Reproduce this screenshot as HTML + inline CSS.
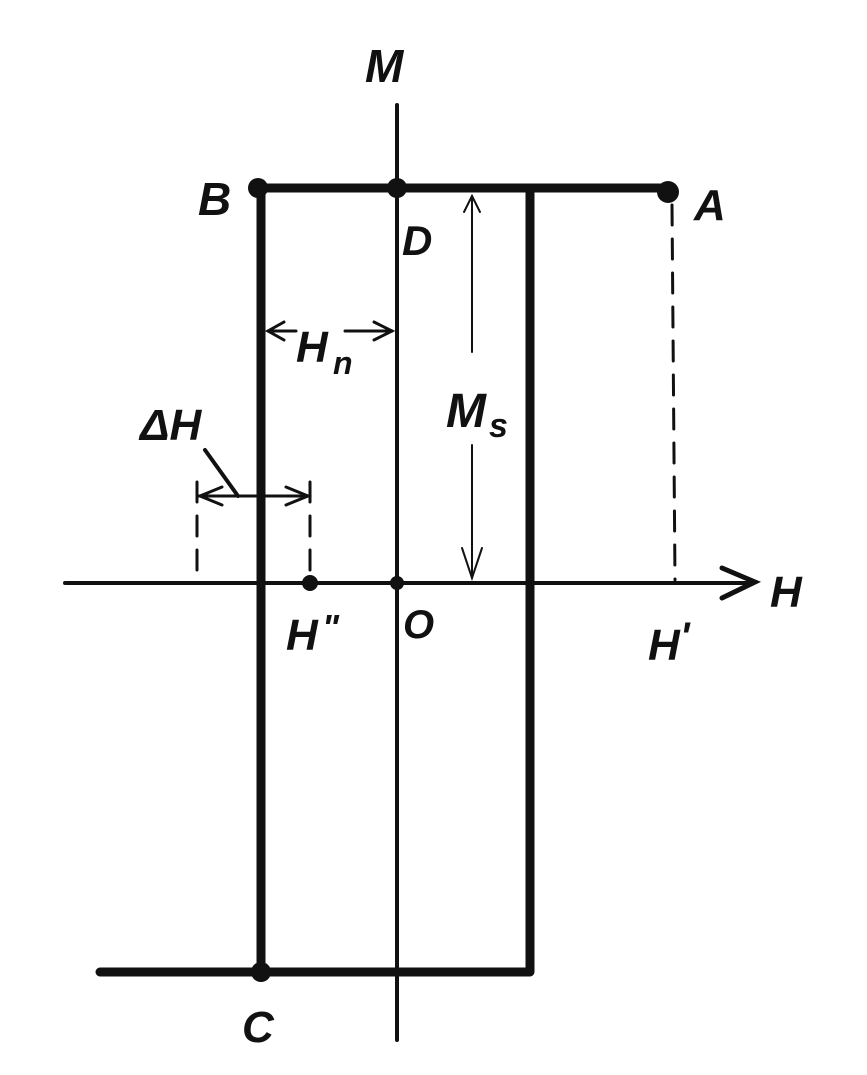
<!DOCTYPE html>
<html><head><style>
html,body{margin:0;padding:0;background:#fff;}
svg{display:block;}
text{font-family:"Liberation Sans",sans-serif;font-weight:bold;font-style:italic;fill:#111;}
</style></head><body>
<svg width="867" height="1075" viewBox="0 0 867 1075" xmlns="http://www.w3.org/2000/svg">
<rect width="867" height="1075" fill="#fff"/>
<g stroke="#111" fill="none" stroke-linecap="round">
<line x1="397" y1="105" x2="397" y2="1040" stroke-width="4"/>
<line x1="65" y1="583" x2="752" y2="583" stroke-width="4"/>
<polyline points="722,568 755,582 722,598" stroke-width="5"/>
<polyline points="258,188 668,188" stroke-width="9"/>
<polyline points="261,188 261,972" stroke-width="9"/>
<polyline points="530,190 530,972 100,972" stroke-width="9" stroke-linejoin="round"/>
<line x1="672" y1="205" x2="675" y2="580" stroke-width="3" stroke-dasharray="20,14"/>
<line x1="197" y1="482" x2="197" y2="578" stroke-width="3" stroke-dasharray="20,14"/>
<line x1="310" y1="482" x2="310" y2="578" stroke-width="3" stroke-dasharray="20,14"/>
<line x1="197" y1="496" x2="308" y2="496" stroke-width="3"/>
<polyline points="222,487 200,496 222,505" stroke-width="3"/>
<polyline points="286,487 308,496 286,505" stroke-width="3"/>
<line x1="205" y1="450" x2="238" y2="496" stroke-width="4"/>
<line x1="268" y1="331" x2="296" y2="331" stroke-width="3"/>
<polyline points="284,322 268,331 284,340" stroke-width="3"/>
<line x1="345" y1="331" x2="392" y2="331" stroke-width="3"/>
<polyline points="374,322 392,331 374,340" stroke-width="3"/>
<line x1="472" y1="196" x2="472" y2="352" stroke-width="2"/>
<polyline points="464,212 472,196 480,212" stroke-width="2"/>
<line x1="472" y1="445" x2="472" y2="578" stroke-width="2"/>
<polyline points="462,548 472,578 482,548" stroke-width="2"/>
</g>
<g fill="#111">
<circle cx="258" cy="188" r="10"/>
<circle cx="397" cy="188" r="10"/>
<circle cx="668" cy="192" r="11"/>
<circle cx="261" cy="972" r="10"/>
<circle cx="310" cy="583" r="8"/>
<circle cx="397" cy="583" r="7"/>
</g>
<text x="365" y="82" font-size="46">M</text>
<text x="198" y="215" font-size="46">B</text>
<text x="402" y="255" font-size="42">D</text>
<text x="694" y="220" font-size="44">A</text>
<text x="296" y="362" font-size="44">H</text><text x="333" y="374" font-size="32">n</text>
<text x="446" y="427" font-size="48">M</text><text x="489" y="437" font-size="34">s</text>
<text x="140" y="440" font-size="44">ΔH</text>
<text x="286" y="650" font-size="44">H</text><text x="322" y="640" font-size="36">"</text>
<text x="403" y="638" font-size="40">O</text>
<text x="648" y="660" font-size="44">H</text><text x="680" y="650" font-size="40">'</text>
<text x="770" y="607" font-size="44">H</text>
<text x="242" y="1042" font-size="44">C</text>
</svg>
</body></html>
